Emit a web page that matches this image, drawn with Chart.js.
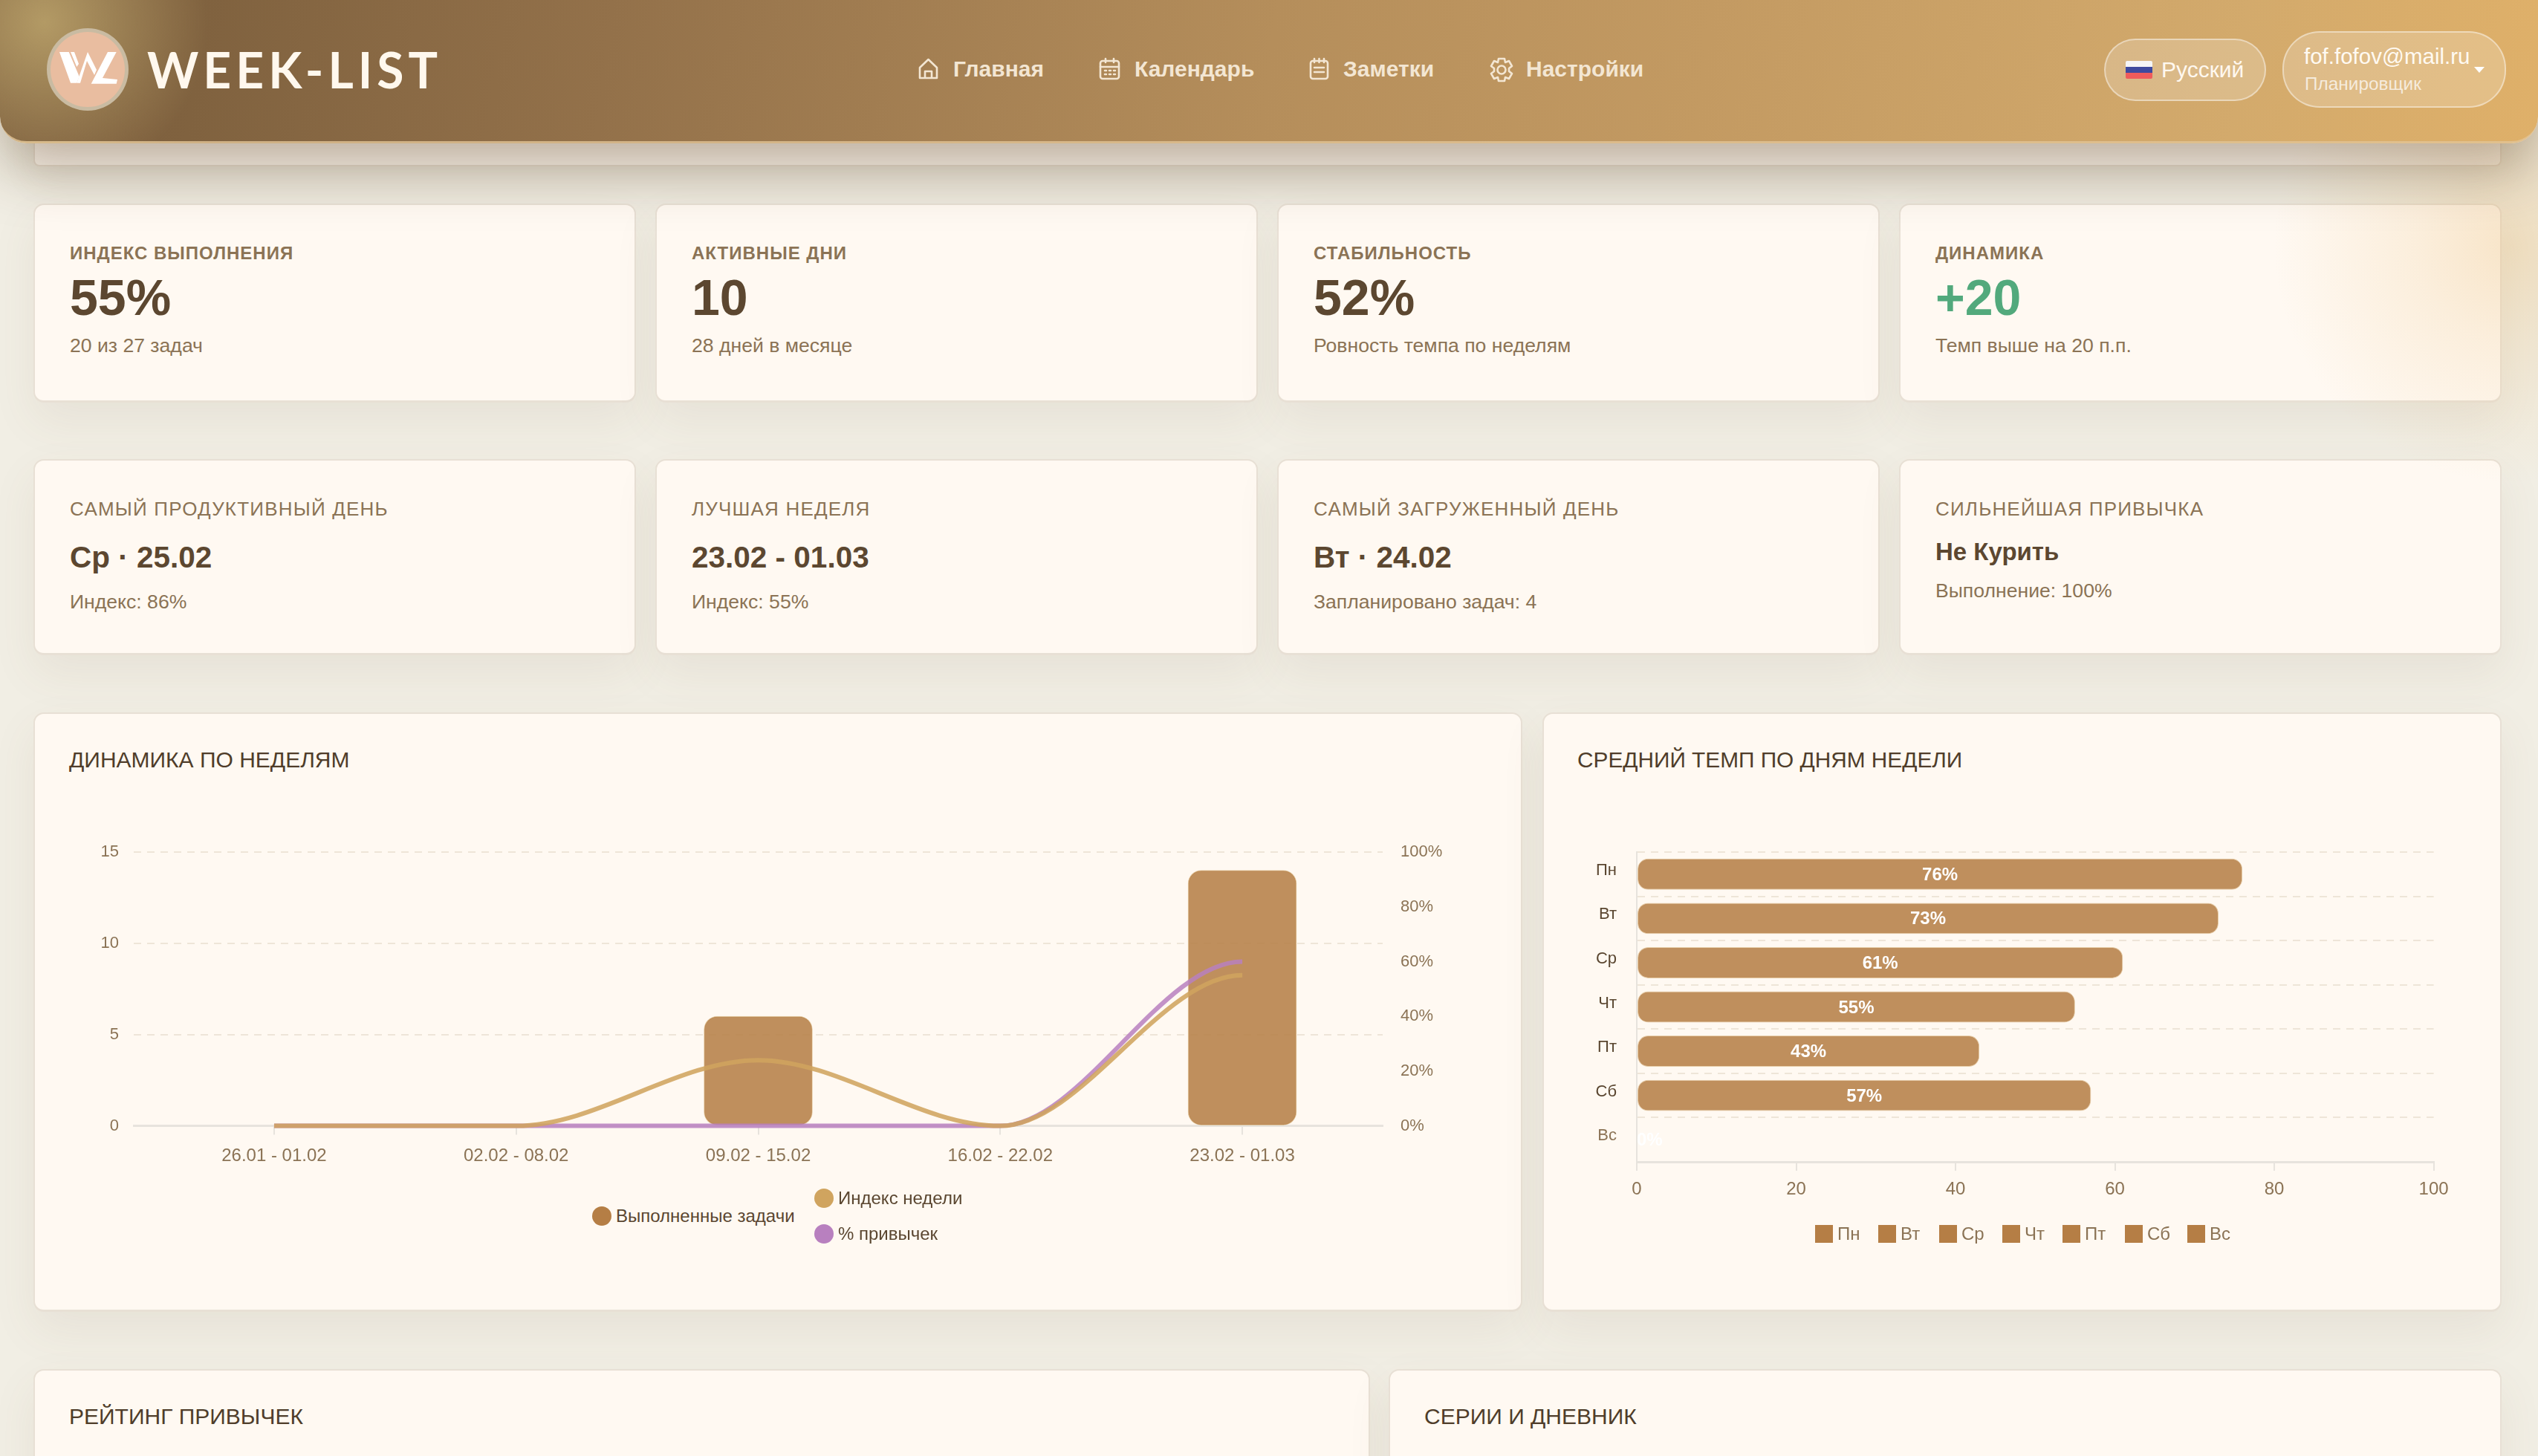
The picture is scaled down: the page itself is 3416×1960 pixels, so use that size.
<!DOCTYPE html>
<html lang="ru">
<head>
<meta charset="utf-8">
<title>WEEK-LIST</title>
<script src="https://cdn.jsdelivr.net/npm/chart.js@4"></script>
<style>
html, body { margin: 0; padding: 0; }
body { width: 3416px; height: 1960px; overflow: hidden; position: relative; background: #f1eee4; font-family: "Liberation Sans", Arial, sans-serif; color: #5c4730; }
.abs { position: absolute; white-space: nowrap; transform: translateY(-50%); }
.strip { position: absolute; left: 45px; top: 150px; width: 3322px; height: 74px; box-sizing: border-box; background: #fff9f2; border: 2px solid #e8dfd3; border-radius: 8px; box-shadow: 0 20px 50px rgba(110,90,60,.07); }
.card { position: absolute; box-sizing: border-box; background: #fff9f2; border: 2px solid #e8e0d5; border-bottom-width: 3px; border-radius: 14px; box-shadow: 0 24px 60px rgba(110,90,60,.08); }
header { position: absolute; left: 0; top: 0; width: 3416px; height: 190px; border-radius: 0 0 36px 36px; border-bottom: 3px solid rgba(226,196,150,.8);
  background: radial-gradient(circle at 60px 30px, #b39a65 0, rgba(179,154,101,0) 220px), linear-gradient(97deg, #7b5d3d 0, #80623f 8%, #93714a 24%, #b58e5b 50%, #c39a62 67%, #d3aa6c 88%, #dfb069 100%);
  box-shadow: 0 30px 80px rgba(70,45,10,.38); }
.logo { position: absolute; left: 63px; top: 38px; width: 110px; height: 111px; box-sizing: border-box; border-radius: 50%; background: #e9bda0; border: 5px solid #c9bba2; }
.brand { font-family: Lato, sans-serif; font-weight: 700; font-size: 66px; letter-spacing: 6px; color: #fff8ee; }
.nav { font-weight: 700; font-size: 30px; color: #f3e6d3; }
.pill { position: absolute; box-sizing: border-box; background: rgba(255,255,255,.2); border: 2.5px solid rgba(255,255,255,.42); border-radius: 42px; }
.glow { position: absolute; left: 2900px; top: 60px; width: 516px; height: 640px; pointer-events: none; background: radial-gradient(circle at 480px 270px, rgba(232,182,105,.3) 0, rgba(232,182,105,.16) 130px, rgba(232,182,105,0) 320px); }
.t-label { font-size: 24px; font-weight: 700; letter-spacing: 1px; color: #8b7355; }
.t-value { font-size: 68px; font-weight: 700; color: #5c4730; }
.t-sub { font-size: 26.6px; color: #8b7355; }
.h-label { font-size: 26px; letter-spacing: 1.2px; color: #8b7355; }
.h-value { font-size: 40.5px; font-weight: 700; color: #5c4730; }
.c-title { font-size: 30px; color: #4f3d2a; }
.lg { font-size: 24px; color: #5a4630; }
canvas { position: absolute; }
</style>
</head>
<body>
<div class="strip"></div>
<div id="page"></div>
<canvas id="weekChart" width="1910" height="500" style="left:90px;top:1100px"></canvas>
<canvas id="dayChart" width="1230" height="560" style="left:2110px;top:1100px"></canvas>
<div id="overlay"></div>
<div class="glow"></div>
<header>
  <div class="logo"></div>
  <svg style="position:absolute;left:0;top:0" width="190" height="190" fill="#fff">
    <polygon points="80,70 92.7,70 106.7,103 103.3,111.7 95,111.7"/>
    <polygon points="95,70 100,70 106,86 103.3,90"/>
    <polygon points="103.3,111.7 118,70 130,94 127,101 117,82 108,111.7"/>
    <polygon points="145,70 156.7,70 138,105 158,107 156.7,112.7 122.7,112.7"/>
  </svg>
  <div class="abs brand" style="left:198px;top:93px">WEEK-LIST</div>
  <svg style="position:absolute;left:0;top:0" width="2100" height="190" fill="none" stroke="#f3e6d3" stroke-width="2.6" stroke-linejoin="round" stroke-linecap="round">
    <path d="M1238 91 L1249.5 80 L1261 91 V105 H1238 Z M1245 105 V96 H1254 V105"/>
    <rect x="1481" y="82" width="25" height="24" rx="3"/><path d="M1481 90 H1506 M1488 79 V84 M1499 79 V84 M1487 95 H1489 M1493 95 H1495 M1499 95 H1501 M1487 100 H1489 M1493 100 H1495 M1499 100 H1501"/>
    <rect x="1764" y="82" width="23" height="24" rx="3"/><path d="M1769 79 V84 M1775.5 79 V84 M1782 79 V84 M1769 91 H1782 M1769 97 H1782"/>
    <circle cx="2021" cy="94" r="5.5"/><path d="M2017 79 H2025 L2026 84 L2031 82 L2035 89 L2031 92 V96 L2035 99 L2031 106 L2026 104 L2025 109 H2017 L2016 104 L2011 106 L2007 99 L2011 96 V92 L2007 89 L2011 82 L2016 84 Z"/>
  </svg>
  <div class="abs nav" style="left:1283px;top:93px">Главная</div>
  <div class="abs nav" style="left:1527px;top:93px">Календарь</div>
  <div class="abs nav" style="left:1808px;top:93px">Заметки</div>
  <div class="abs nav" style="left:2054px;top:93px">Настройки</div>
  <div class="pill" style="left:2832px;top:52px;width:218px;height:84px"></div>
  <div style="position:absolute;left:2861px;top:82px;width:36px;height:24px;border-radius:2px;overflow:hidden;background:linear-gradient(#f5f5f6 0 33%,#3f4a9e 33% 66%,#ef5b5b 66%)"></div>
  <div class="abs" style="left:2909px;top:94px;font-size:30px;color:#fff8ef">Русский</div>
  <div class="pill" style="left:3072px;top:42px;width:301px;height:103px;border-radius:50px"></div>
  <div class="abs" style="left:3101px;top:76px;font-size:29.5px;color:#fffaf2">fof.fofov@mail.ru</div>
  <div class="abs" style="left:3102px;top:113px;font-size:24.4px;color:rgba(255,255,255,.72)">Планировщик</div>
  <div style="position:absolute;left:3330px;top:90px;border:7px solid transparent;border-top:8px solid #fff;border-bottom:0"></div>
</header>
<script>
// stat cards
var statTitles = ['ИНДЕКС ВЫПОЛНЕНИЯ', 'АКТИВНЫЕ ДНИ', 'СТАБИЛЬНОСТЬ', 'ДИНАМИКА'];
var statValues = ['55%', '10', '52%', '+20'];
var statNotes = ['20 из 27 задач', '28 дней в месяце', 'Ровность темпа по неделям', 'Темп выше на 20 п.п.'];
var bestTitles = ['САМЫЙ ПРОДУКТИВНЫЙ ДЕНЬ', 'ЛУЧШАЯ НЕДЕЛЯ', 'САМЫЙ ЗАГРУЖЕННЫЙ ДЕНЬ', 'СИЛЬНЕЙШАЯ ПРИВЫЧКА'];
var bestValues = ['Ср · 25.02', '23.02 - 01.03', 'Вт · 24.02', 'Не Курить'];
var bestNotes = ['Индекс: 86%', 'Индекс: 55%', 'Запланировано задач: 4', 'Выполнение: 100%'];

// weekly chart
var weeks = ['26.01 - 01.02', '02.02 - 08.02', '09.02 - 15.02', '16.02 - 22.02', '23.02 - 01.03'];
var doneTasks = [0, 0, 6, 0, 14];
var weekIndex = [0, 0, 24, 0, 55];
var habitPercent = [0, 0, 0, 0, 60];
var weekSeries = ['Выполненные задачи', 'Индекс недели', '% привычек'];

// weekday chart
var days = ['Пн', 'Вт', 'Ср', 'Чт', 'Пт', 'Сб', 'Вс'];
var dayTempo = [76, 73, 61, 55, 43, 57, 0];

var cardLefts = [45, 882, 1719, 2556];
var page = document.getElementById('page');
var overlay = document.getElementById('overlay');

function addBox(parent, left, top, width, height) {
    var d = document.createElement('div');
    d.className = 'card';
    d.style.cssText = 'left:' + left + 'px;top:' + top + 'px;width:' + width + 'px;height:' + height + 'px';
    parent.appendChild(d);
}

function addText(parent, cls, text, left, cy, color) {
    var d = document.createElement('div');
    d.className = 'abs ' + cls;
    d.textContent = text;
    d.style.left = left + 'px';
    d.style.top = cy + 'px';
    if (color) d.style.color = color;
    parent.appendChild(d);
    return d;
}

cardLefts.forEach(function (left, i) {
    addBox(page, left, 274, 811, 268);
    addText(page, 't-label', statTitles[i], left + 49, 341);
    addText(page, 't-value', statValues[i], left + 49, 400, i == 3 ? '#52a97c' : null);
    addText(page, 't-sub', statNotes[i], left + 49, 465);
    addBox(page, left, 618, 811, 264);
    addText(page, 'h-label', bestTitles[i], left + 49, 685);
    if (i == 3) {
        addText(page, 'h-value', bestValues[i], left + 49, 743).style.fontSize = '33px';
        addText(page, 't-sub', bestNotes[i], left + 49, 795);
    } else {
        addText(page, 'h-value', bestValues[i], left + 49, 750);
        addText(page, 't-sub', bestNotes[i], left + 49, 810);
    }
});

addBox(page, 45, 959, 2004, 807);
addBox(page, 2076, 959, 1291, 807);
addBox(page, 45, 1843, 1799, 200);
addBox(page, 1869, 1843, 1498, 200);
addText(page, 'c-title', 'ДИНАМИКА ПО НЕДЕЛЯМ', 93, 1023);
addText(page, 'c-title', 'СРЕДНИЙ ТЕМП ПО ДНЯМ НЕДЕЛИ', 2123, 1023).style.fontSize = '29.8px';
addText(page, 'c-title', 'РЕЙТИНГ ПРИВЫЧЕК', 93, 1907);
addText(page, 'c-title', 'СЕРИИ И ДНЕВНИК', 1917, 1907);

// legends are html, the chart's own legend can't do this layout
var barColor = '#b57e45', indexColor = '#d0a45f', habitColor = '#b880bf';

function addDot(left, cy, color, text) {
    var d = document.createElement('div');
    d.style.cssText = 'position:absolute;width:26px;height:26px;border-radius:50%;left:' + left + 'px;top:' + (cy - 13) + 'px;background:' + color;
    overlay.appendChild(d);
    addText(overlay, 'lg', text, left + 32, cy);
}
addDot(797, 1637, barColor, weekSeries[0]);
addDot(1096, 1613, indexColor, weekSeries[1]);
addDot(1096, 1661, habitColor, weekSeries[2]);

var dayKeyX = [2443, 2528, 2610, 2695, 2776, 2860, 2944];
days.forEach(function (day, i) {
    var d = document.createElement('div');
    d.style.cssText = 'position:absolute;width:24px;height:24px;left:' + dayKeyX[i] + 'px;top:1649px;background:' + barColor;
    overlay.appendChild(d);
    addText(overlay, 'lg', day, dayKeyX[i] + 30, 1661, '#8b7355');
});

var tickColor = '#8b7355', gridColor = '#eee5d8', axisColor = '#e7e3dd';
var barFill = 'rgba(181,126,69,.86)', barEdge = 'rgba(208,164,95,.5)';
var font22 = { family: '"Liberation Sans", Arial, sans-serif', size: 22 };
var font24 = { family: '"Liberation Sans", Arial, sans-serif', size: 24 };

// last point of a line ends flat like the rest of the curve
var flatEnds = {
    id: 'flatEnds',
    beforeDatasetDraw: function (chart, args) {
        var meta = args.meta;
        if (meta.type !== 'line') return;
        meta.dataset.updateControlPoints(chart.chartArea, 'x');
        var last = meta.data[meta.data.length - 1];
        last.cp1y = last.y;
        meta.dataset._path = undefined;
    }
};

function toPoints(values) {
    return values.map(function (v, i) { return { x: i, y: v }; });
}

new Chart(document.getElementById('weekChart'), {
    type: 'bar',
    plugins: [flatEnds],
    data: {
        datasets: [
            { type: 'line', label: weekSeries[1], data: toPoints(weekIndex), yAxisID: 'yPct', borderColor: 'rgba(208,164,95,.88)', borderWidth: 6, pointRadius: 0, cubicInterpolationMode: 'monotone', clip: false },
            { type: 'line', label: weekSeries[2], data: toPoints(habitPercent), yAxisID: 'yPct', borderColor: 'rgba(184,128,191,.85)', borderWidth: 6, pointRadius: 0, cubicInterpolationMode: 'monotone', clip: false },
            { label: weekSeries[0], data: toPoints(doneTasks), yAxisID: 'y', backgroundColor: barFill, borderColor: barEdge, borderWidth: 1, borderRadius: 18, borderSkipped: false, barThickness: 146 }
        ]
    },
    options: {
        responsive: false,
        devicePixelRatio: 1,
        animation: false,
        layout: { padding: { top: 47 } },
        plugins: { legend: { display: false }, tooltip: { enabled: false } },
        scales: {
            x: {
                type: 'linear', offset: false, min: -0.58, max: 4.58,
                afterFit: function (s) { s.height = 84.4; },
                grid: { offset: false, drawOnChartArea: false, color: axisColor, lineWidth: 2, tickLength: 12 },
                border: { color: axisColor, width: 3 },
                ticks: {
                    stepSize: 1, includeBounds: false, autoSkip: false, maxRotation: 0,
                    padding: 14, color: tickColor, font: font24,
                    callback: function (v) { return weeks[v]; }
                }
            },
            y: {
                min: 0, max: 15,
                afterFit: function (s) { s.width = 90; },
                grid: { color: function (c) { return c.tick.value == 0 ? 'transparent' : gridColor; }, lineWidth: 2, drawTicks: false },
                border: { display: false, dash: [10, 8] },
                ticks: { stepSize: 5, padding: 20, color: tickColor, font: font22 }
            },
            yPct: {
                position: 'right', min: 0, max: 100,
                afterFit: function (s) { s.width = 139; },
                grid: { display: false },
                border: { display: false },
                ticks: { stepSize: 20, padding: 16, color: tickColor, font: font22, callback: function (v) { return v + '%'; } }
            }
        }
    }
});

var barValueLabels = {
    id: 'barValueLabels',
    afterDatasetsDraw: function (chart) {
        var ctx = chart.ctx;
        var bars = chart.getDatasetMeta(0).data;
        ctx.save();
        ctx.font = 'bold 24px "Liberation Sans", Arial, sans-serif';
        ctx.fillStyle = '#fff';
        ctx.textAlign = 'center';
        ctx.textBaseline = 'middle';
        bars.forEach(function (bar, i) {
            var text = dayTempo[i] + '%';
            var half = ctx.measureText(text).width / 2;
            var x = Math.max((bar.x + bar.base) / 2, bar.base + half);
            ctx.fillText(text, x, bar.y + 1.5);
        });
        ctx.restore();
    }
};

new Chart(document.getElementById('dayChart'), {
    type: 'bar',
    plugins: [barValueLabels],
    data: {
        labels: days,
        datasets: [{ label: 'Темп', data: dayTempo, backgroundColor: barFill, borderColor: barEdge, borderWidth: 1, borderRadius: 14, borderSkipped: false, barPercentage: 0.88, categoryPercentage: 0.8 }]
    },
    options: {
        indexAxis: 'y',
        responsive: false,
        devicePixelRatio: 1,
        animation: false,
        layout: { padding: { top: 47, right: 64.4 } },
        plugins: { legend: { display: false }, tooltip: { enabled: false } },
        scales: {
            x: {
                min: 0, max: 100,
                afterFit: function (s) { s.height = 96; },
                grid: { drawOnChartArea: false, color: axisColor, lineWidth: 2, tickLength: 12 },
                border: { color: axisColor, width: 3 },
                ticks: { stepSize: 20, padding: 11, maxRotation: 0, color: tickColor, font: font24 }
            },
            y: {
                afterFit: function (s) { s.width = 93; },
                grid: { color: gridColor, lineWidth: 2, drawTicks: false },
                border: { color: axisColor, width: 2, dash: [10, 8] },
                ticks: {
                    padding: 27, labelOffset: -5, font: font22,
                    color: function (c) { return dayTempo[c.index] > 0 ? '#5a4630' : tickColor; }
                }
            }
        }
    }
});
</script>
</body>
</html>
